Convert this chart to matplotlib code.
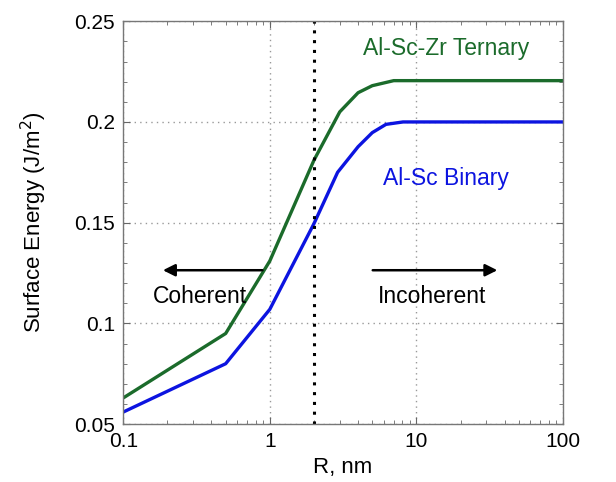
import matplotlib
matplotlib.use("Agg")
import matplotlib.pyplot as plt
from matplotlib.ticker import FixedLocator, MultipleLocator, FixedFormatter

plt.rcParams['font.family'] = ['Liberation Sans', 'DejaVu Sans']

# Data
r_ternary = [0.1, 0.5, 1.0, 2.0, 3.0, 4.0, 5.0, 7.0, 100.0]
e_ternary = [0.063, 0.095, 0.131, 0.181, 0.205, 0.2145, 0.218, 0.2205, 0.2205]
r_binary = [0.1, 0.5, 1.0, 2.0, 2.9, 4.0, 5.0, 6.2, 8.1, 100.0]
e_binary = [0.056, 0.080, 0.107, 0.1495, 0.175, 0.1877, 0.1947, 0.1988, 0.200, 0.200]
x_ticks = [0.1, 1, 10, 100]
x_ticklabels = ['0.1', '1', '10', '100']
y_ticks = [0.05, 0.1, 0.15, 0.2, 0.25]
y_ticklabels = ['0.05', '0.1', '0.15', '0.2', '0.25']
r_transition = 2.0

green = '#1b6b2b'
blue = '#0c14e0'

fig = plt.figure(figsize=(6.16, 4.82), dpi=100)
ax = fig.add_axes([0.200, 0.120, 0.714, 0.836])

ax.plot(r_ternary, e_ternary, color=green, lw=2.4, solid_joinstyle='round')
ax.plot(r_binary, e_binary, color=blue, lw=2.4, solid_joinstyle='round')
ax.axvline(r_transition, color='black', lw=2.2, ls=(0, (1, 2.2)))

ax.set_xscale('log')
ax.set_xlim(0.1, 100)
ax.set_ylim(0.05, 0.25)
ax.xaxis.set_major_locator(FixedLocator(x_ticks))
ax.xaxis.set_major_formatter(FixedFormatter(x_ticklabels))
ax.yaxis.set_major_locator(FixedLocator(y_ticks))
ax.yaxis.set_major_formatter(FixedFormatter(y_ticklabels))
ax.yaxis.set_minor_locator(MultipleLocator(0.01))

ax.grid(True, which='major', color='#999999', ls=(0, (1, 3)), lw=1.0)
ax.tick_params(which='both', direction='in', top=True, right=True,
               color='#666666', labelsize=15, pad=6)
ax.tick_params(which='major', length=5)
ax.tick_params(which='minor', length=3)
for s in ax.spines.values():
    s.set_color('#777777')
    s.set_linewidth(1.0)

ax.set_xlabel('R, nm', fontsize=16, labelpad=4)
ax.set_ylabel('Surface Energy (J/m$^2$)', fontsize=16, labelpad=18)

ax.text(0.734, 0.933, 'Al-Sc-Zr Ternary', color=green, fontsize=16.5,
        transform=ax.transAxes, ha='center', va='center')
ax.text(0.734, 0.610, 'Al-Sc Binary', color=blue, fontsize=16.5,
        transform=ax.transAxes, ha='center', va='center')
ax.text(0.175, 0.318, 'Coherent', color='black', fontsize=16.5,
        transform=ax.transAxes, ha='center', va='center')
ax.text(0.702, 0.318, 'Incoherent', color='black', fontsize=16.5,
        transform=ax.transAxes, ha='center', va='center')

ax.annotate('', xy=(0.084, 0.382), xytext=(0.323, 0.382), xycoords='axes fraction',
            arrowprops=dict(arrowstyle='-|>', color='black', lw=1.8,
                            mutation_scale=18))
ax.annotate('', xy=(0.857, 0.382), xytext=(0.561, 0.382), xycoords='axes fraction',
            arrowprops=dict(arrowstyle='-|>', color='black', lw=1.8,
                            mutation_scale=18))

fig.savefig('out.png', dpi=100)
